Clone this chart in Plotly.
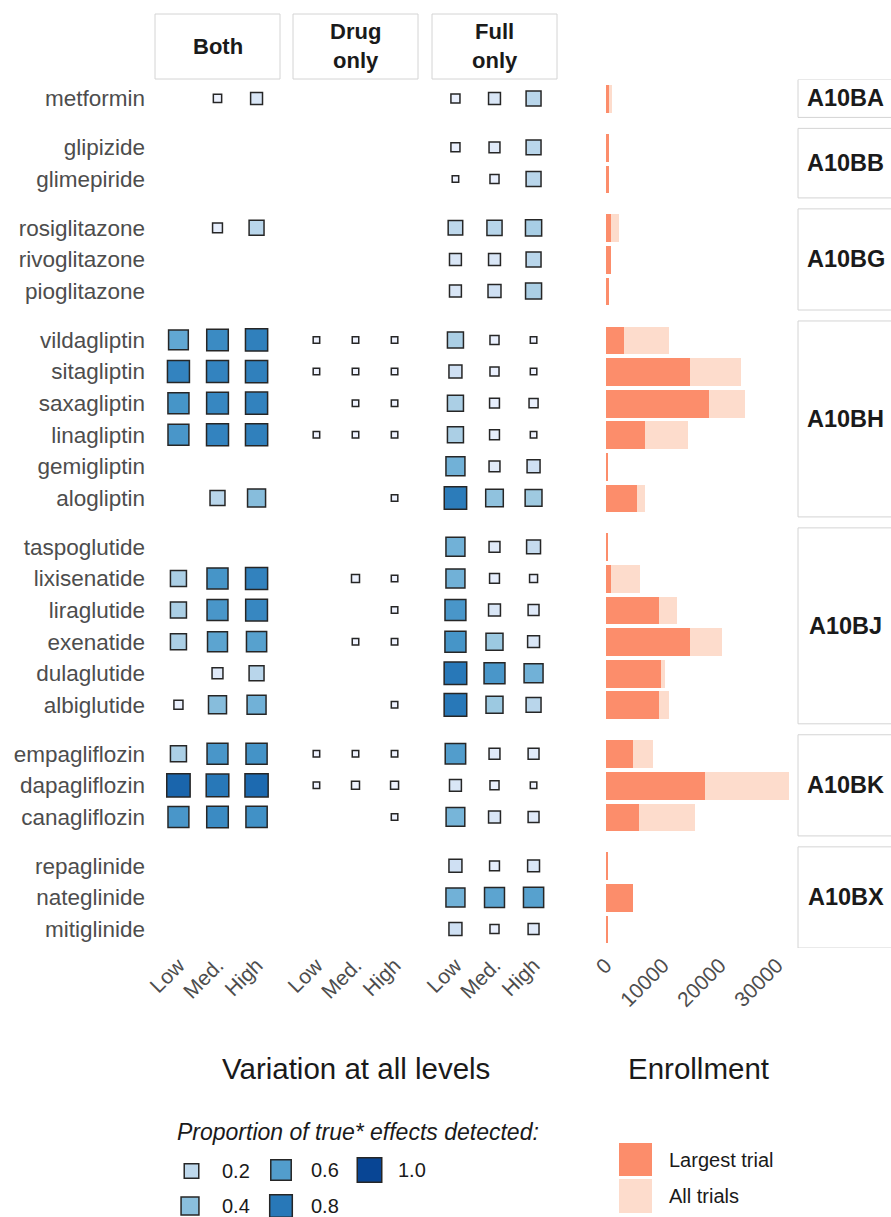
import math
import plotly.graph_objects as go

W, H = 891, 1217

# ---------------------------------------------------------------- data
groups = ["A10BA", "A10BB", "A10BG", "A10BH", "A10BJ", "A10BK", "A10BX"]
group_drugs = [
    ["metformin"],
    ["glipizide", "glimepiride"],
    ["rosiglitazone", "rivoglitazone", "pioglitazone"],
    ["vildagliptin", "sitagliptin", "saxagliptin", "linagliptin", "gemigliptin", "alogliptin"],
    ["taspoglutide", "lixisenatide", "liraglutide", "exenatide", "dulaglutide", "albiglutide"],
    ["empagliflozin", "dapagliflozin", "canagliflozin"],
    ["repaglinide", "nateglinide", "mitiglinide"],
]
levels = ["Low", "Med.", "High"]
panels = ["Both", "Drug<br>only", "Full<br>only"]

# proportion of true effects detected, per drug: [Low, Med., High]
both = [
    [None, 0.01, 0.09],
    [None, None, None], [None, None, None],
    [None, 0.035, 0.22], [None, None, None], [None, None, None],
    [0.54, 0.70, 0.76], [0.74, 0.74, 0.76], [0.65, 0.72, 0.75],
    [0.64, 0.74, 0.76], [None, None, None], [None, 0.22, 0.41],
    [None, None, None], [0.28, 0.65, 0.75], [0.28, 0.64, 0.72],
    [0.28, 0.56, 0.58], [None, 0.06, 0.22], [0.02, 0.41, 0.48],
    [0.28, 0.64, 0.66], [0.88, 0.80, 0.86], [0.64, 0.70, 0.67],
    [None, None, None], [None, None, None], [None, None, None],
]
drug_only = [
    [None, None, None],
    [None, None, None], [None, None, None],
    [None, None, None], [None, None, None], [None, None, None],
    [0.0, 0.0, 0.0], [0.0, 0.0, 0.0], [None, 0.0, 0.0],
    [0.0, 0.0, 0.0], [None, None, None], [None, None, 0.0],
    [None, None, None], [None, 0.007, 0.0], [None, None, 0.0],
    [None, 0.0, 0.0], [None, None, None], [None, None, 0.0],
    [0.0, 0.0, 0.0], [0.0, 0.007, 0.007], [None, None, 0.0],
    [None, None, None], [None, None, None], [None, None, None],
]
full_only = [
    [0.02, 0.09, 0.22],
    [0.02, 0.06, 0.22], [0.0, 0.02, 0.22],
    [0.20, 0.23, 0.29], [0.09, 0.09, 0.22], [0.09, 0.13, 0.28],
    [0.28, 0.02, 0.0], [0.13, 0.02, 0.0], [0.28, 0.035, 0.02],
    [0.28, 0.035, 0.0], [0.48, 0.06, 0.13], [0.78, 0.38, 0.33],
    [0.48, 0.06, 0.17], [0.48, 0.035, 0.007], [0.64, 0.09, 0.06],
    [0.65, 0.34, 0.09], [0.80, 0.64, 0.48], [0.80, 0.34, 0.22],
    [0.60, 0.06, 0.06], [0.09, 0.02, 0.0], [0.46, 0.09, 0.06],
    [0.13, 0.035, 0.09], [0.48, 0.56, 0.58], [0.13, 0.02, 0.06],
]

# enrollment (participants)
largest_trial = [500, 500, 450, 900, 900, 500,
                 3100, 14700, 18100, 6800, 350, 5400,
                 350, 900, 9300, 14700, 9600, 9300,
                 4700, 17400, 5800,
                 350, 4700, 300]
all_trials = [1100, 500, 450, 2200, 900, 500,
              11000, 23700, 24400, 14400, 350, 6800,
              350, 6000, 12500, 20400, 10400, 11000,
              8200, 32100, 15600,
              350, 4700, 300]

legend_values = [0.2, 0.4, 0.6, 0.8, 1.0]
enroll_ticks = [0, 10000, 20000, 30000]

# ---------------------------------------------------------------- styling
BLUES = [[0.0, "#eff3ff"], [1 / 6, "#c6dbef"], [2 / 6, "#9ecae1"], [3 / 6, "#6baed6"],
         [4 / 6, "#4292c6"], [5 / 6, "#2171b5"], [1.0, "#084594"]]
DARK_BAR = "#fc8d6b"
LIGHT_BAR = "#fddccc"
OUTLINE = "#262626"
FONT = "Liberation Sans, Arial, sans-serif"
GROUP_STEP = 1.547


def marker_size(v):
    # side length grows with the square root of the proportion
    return 6.5 + 18 * math.sqrt(v)


def px(x):
    return x / W


def py(y):
    return 1 - y / H


# row positions: one unit per drug, wider step between ATC groups
drugs, positions, group_spans = [], [], []
pos = 0.0
for names in group_drugs:
    start = pos
    for j, name in enumerate(names):
        drugs.append(name)
        positions.append(pos)
        if j < len(names) - 1:
            pos += 1
    group_spans.append((start, pos))
    pos += GROUP_STEP
y_last = positions[-1]

fig = go.Figure()

# ---------------------------------------------------------------- squares
for k, table in enumerate([both, drug_only, full_only]):
    xs, ys, vals = [], [], []
    for i, row in enumerate(table):
        for li, v in enumerate(row):
            if v is not None:
                xs.append(levels[li])
                ys.append(positions[i])
                vals.append(v)
    fig.add_trace(go.Scatter(
        x=xs, y=ys, mode="markers",
        xaxis="x" if k == 0 else f"x{k + 1}", yaxis="y",
        marker=dict(symbol="square", size=[marker_size(v) for v in vals], opacity=1,
                    color=vals, cmin=0, cmax=1, colorscale=BLUES,
                    showscale=False, line=dict(color=OUTLINE, width=1.5)),
        showlegend=False, hoverinfo="skip"))

# ---------------------------------------------------------------- enrollment bars
fig.add_trace(go.Bar(x=all_trials, y=positions, orientation="h", width=0.88,
                     marker=dict(color=LIGHT_BAR, line=dict(width=0)),
                     xaxis="x4", yaxis="y", showlegend=False, hoverinfo="skip"))
fig.add_trace(go.Bar(x=largest_trial, y=positions, orientation="h", width=0.88,
                     marker=dict(color=DARK_BAR, line=dict(width=0)),
                     xaxis="x4", yaxis="y", showlegend=False, hoverinfo="skip"))

# ---------------------------------------------------------------- size/colour legend keys
key_pos = {0.2: (191.5, 1171), 0.4: (190, 1206), 0.6: (281, 1170),
           0.8: (281, 1206), 1.0: (369.5, 1170)}
lab_pos = {0.2: (220, 1171), 0.4: (220, 1206), 0.6: (309, 1170),
           0.8: (309, 1206), 1.0: (396, 1170)}
fig.add_trace(go.Scatter(
    x=[key_pos[v][0] for v in legend_values],
    y=[key_pos[v][1] for v in legend_values],
    mode="markers", xaxis="x5", yaxis="y5",
    marker=dict(symbol="square", size=[marker_size(v) for v in legend_values], opacity=1,
                color=legend_values, cmin=0, cmax=1, colorscale=BLUES,
                showscale=False, line=dict(color=OUTLINE, width=1.5)),
    showlegend=False, hoverinfo="skip"))

annotations = []
shapes = []

for v in legend_values:
    annotations.append(dict(x=px(lab_pos[v][0]), y=py(lab_pos[v][1]), xref="paper", yref="paper",
                            text=f"{v:.1f}", showarrow=False, xanchor="left", yanchor="middle",
                            font=dict(family=FONT, size=20, color="#1a1a1a")))
annotations.append(dict(x=px(175), y=py(1132), xref="paper", yref="paper",
                        text="<i>Proportion of true* effects detected:</i>", showarrow=False,
                        xanchor="left", yanchor="middle",
                        font=dict(family=FONT, size=23, color="#1a1a1a")))

# enrollment legend
for (y0, y1, col, lab) in [(1143, 1176, DARK_BAR, "Largest trial"), (1179, 1213, LIGHT_BAR, "All trials")]:
    shapes.append(dict(type="rect", xref="paper", yref="paper", x0=px(619), x1=px(652),
                       y0=py(y1), y1=py(y0), fillcolor=col, line=dict(width=0), layer="above"))
    annotations.append(dict(x=px(667), y=py((y0 + y1) / 2), xref="paper", yref="paper", text=lab,
                            showarrow=False, xanchor="left", yanchor="middle",
                            font=dict(family=FONT, size=20, color="#1a1a1a")))

# top strips
strip_x = [(155, 280), (293, 418), (432, 557)]
for (x0, x1), lab in zip(strip_x, panels):
    shapes.append(dict(type="rect", xref="paper", yref="paper", x0=px(x0), x1=px(x1),
                       y0=py(79), y1=py(14), fillcolor="white",
                       line=dict(color="#d4d4d4", width=1)))
    annotations.append(dict(x=px((x0 + x1) / 2), y=py(46.5), xref="paper", yref="paper",
                            text=f"<b>{lab}</b>", showarrow=False, xanchor="center", yanchor="middle",
                            font=dict(family=FONT, size=22, color="#1a1a1a")))

# right strips (ATC groups)
for g, (a, b) in zip(groups, group_spans):
    shapes.append(dict(type="rect", xref="paper", yref="y", x0=px(798), x1=px(893),
                       y0=a - 0.6, y1=b + 0.6, fillcolor="white",
                       line=dict(color="#d4d4d4", width=1)))
    annotations.append(dict(x=px(845.5), y=(a + b) / 2, xref="paper", yref="y",
                            text=f"<b>{g}</b>", showarrow=False, xanchor="center", yanchor="middle",
                            font=dict(family=FONT, size=23.5, color="#1a1a1a")))

# axis titles
annotations.append(dict(x=px(356), y=py(1068), xref="paper", yref="paper",
                        text="Variation at all levels", showarrow=False,
                        xanchor="center", yanchor="middle",
                        font=dict(family=FONT, size=29.5, color="#1a1a1a")))
annotations.append(dict(x=px(698), y=py(1068), xref="paper", yref="paper",
                        text="Enrollment", showarrow=False,
                        xanchor="center", yanchor="middle",
                        font=dict(family=FONT, size=29.5, color="#1a1a1a")))

tick_font = dict(family=FONT, size=21, color="#4d4d4d")
cat_axis = dict(type="category", categoryarray=levels, range=[-0.6, 2.6],
                showgrid=False, zeroline=False, showline=False, ticks="",
                tickangle=-45, tickfont=tick_font, anchor="y", fixedrange=True,
                automargin=False)

fig.update_layout(
    width=W, height=H,
    margin=dict(l=0, r=0, t=0, b=0),
    paper_bgcolor="white", plot_bgcolor="rgba(0,0,0,0)",
    barmode="overlay", bargap=0,
    showlegend=False,
    xaxis=dict(cat_axis, domain=[px(155), px(280)]),
    xaxis2=dict(cat_axis, domain=[px(293), px(418)]),
    xaxis3=dict(cat_axis, domain=[px(432), px(557)]),
    xaxis4=dict(domain=[px(605.7), px(790)], range=[0, 32300], anchor="y",
                tickvals=enroll_ticks, ticktext=[str(t) for t in enroll_ticks],
                showgrid=False, zeroline=False, showline=False, ticks="",
                tickangle=-45, tickfont=tick_font, fixedrange=True, automargin=False),
    yaxis=dict(domain=[py(948), py(79.5)], range=[y_last + 0.6, -0.6], anchor="x",
               tickvals=positions, ticktext=drugs, showgrid=False, zeroline=False,
               showline=False, ticks="", tickfont=dict(family=FONT, size=22.5, color="#4d4d4d"),
               ticklabelstandoff=9, fixedrange=True, automargin=False),
    xaxis5=dict(domain=[0, 1], range=[0, W], anchor="y5", visible=False,
                fixedrange=True, automargin=False),
    yaxis5=dict(domain=[0, 1], range=[H, 0], anchor="x5", visible=False,
                fixedrange=True, automargin=False),
    annotations=annotations,
    shapes=shapes,
)

fig.write_html("out.html")
